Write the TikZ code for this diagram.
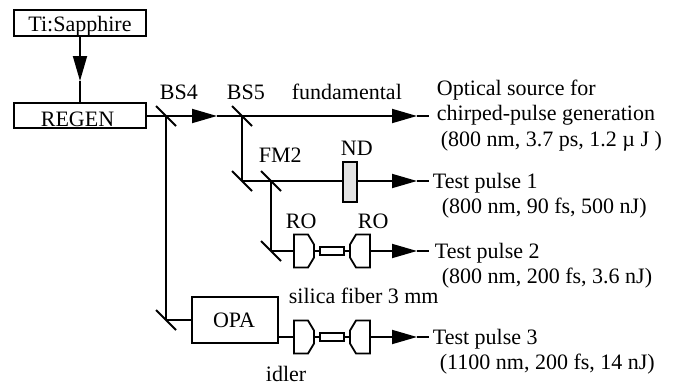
\documentclass[tikz,border=0pt]{standalone}
\usepackage{fontspec}
\setmainfont{Liberation Serif}
\usetikzlibrary{arrows.meta}
\tikzset{
    unitbox/.style={draw,rectangle,inner sep=0pt},
    lbl/.style={anchor=base west,inner sep=0pt},
    flow/.style={-{Triangle[length=25pt,width=14pt]}},
}
\begin{document}
\begin{tikzpicture}[x=1pt,y=-1pt,line width=1.8pt,font=\fontsize{22}{24}\selectfont]
    \useasboundingbox (0,0) rectangle (673,386);
    % boxes
    \node[unitbox,minimum width=132pt,minimum height=26pt,text height=21pt,text depth=5pt] (ti) at (80,23) {Ti:Sapphire};
    \node[unitbox,minimum width=132pt,minimum height=25pt,text height=23pt,text depth=2pt] (regen) at (80,115.5) {REGEN\hspace*{5pt}};
    \node[unitbox,minimum width=86pt,minimum height=46pt,text height=26pt,text depth=12pt] (opa) at (235,320) {OPA\hspace*{2pt}};
    \node[unitbox,minimum width=14pt,minimum height=40pt,fill=gray!22] (nd) at (350,182) {};
    % mirrors
    \foreach \name/\x/\y in {bsfour/166/116,bsfive/242/116,fmone/242/181,fmtwo/271/181,fmthree/271/251,fmfour/166/320} {
        \coordinate (\name) at (\x,\y);
        \draw ([shift={(-10,-10)}]\name) -- ([shift={(10,10)}]\name);
    }
    % beam ends
    \coordinate (tidown) at (80,81);
    \coordinate (tipa) at (217,116);
    \coordinate (tipb) at (417,116);
    \coordinate (enda) at (429,116);
    \coordinate (tipc) at (417,181);
    \coordinate (endb) at (429,181);
    \draw[flow] (ti) -- (tidown);
    \draw (tidown) -- (regen);
    \draw (regen.east |- bsfour) -- (bsfour);
    \draw[flow] (bsfour) -- (tipa);
    \draw (tipa) -- (bsfive);
    \draw[flow] (bsfive) -- (tipb);
    \draw (tipb) -- (enda);
    \draw (bsfive) -- (fmone);
    \draw (fmone) -- (fmtwo);
    \draw (fmtwo) -- (nd.west |- fmtwo);
    \draw[flow] (nd.east |- fmtwo) -- (tipc);
    \draw (tipc) -- (endb);
    \draw (fmtwo) -- (fmthree);
    \draw (bsfour) -- (fmfour);
    \draw (fmfour) -- (opa.west |- fmfour);
    % relay optics and fiber
    \foreach \name/\y in {rla/251,rlb/337} {
        \draw (294,\y-16.5) -- (308,\y-16.5) -- (314,\y-6.5) -- (314,\y+6.5) -- (308,\y+16.5) -- (294,\y+16.5) -- cycle;
        \draw (370,\y-16.5) -- (356,\y-16.5) -- (350,\y-6.5) -- (350,\y+6.5) -- (356,\y+16.5) -- (370,\y+16.5) -- cycle;
        \node[unitbox,minimum width=24pt,minimum height=8pt] (\name fib) at (332,\y) {};
        \coordinate (\name in) at (294,\y);
        \coordinate (\name a) at (314,\y);
        \coordinate (\name b) at (350,\y);
        \coordinate (\name out) at (370,\y);
        \coordinate (\name tip) at (417,\y);
        \coordinate (\name end) at (429,\y);
        \draw (\name a) -- (\name fib);
        \draw (\name fib) -- (\name b);
        \draw[flow] (\name out) -- (\name tip);
        \draw (\name tip) -- (\name end);
    }
    \draw (fmthree) -- (rlain);
    \draw (opa.east |- rlbin) -- (rlbin);
    % labels
    \node[lbl] (bsfourtxt) at (159,99) {BS4};
    \node[lbl] (bsfivetxt) at (226,99) {BS5};
    \node[lbl] (fundtxt) at (291,99) {fundamental};
    \node[lbl] (fmtxt) at (258,162) {FM2};
    \node[lbl] (ndtxt) at (340,155) {ND};
    \node[lbl] (roa) at (285,228) {RO};
    \node[lbl] (rob) at (357,228) {RO};
    \node[lbl] (fibtxt) at (288,303) {silica fiber 3 mm};
    \node[lbl] (idlertxt) at (265,381) {idler};
    \node[lbl] (srca) at (436,95) {Optical source for};
    \node[lbl] (srcb) at (436,120) {chirped-pulse generation};
    \node[lbl] (srcc) at (440,146) {(800 nm, 3.7 ps, 1.2 µ J )};
    \node[lbl] (pa) at (432,188) {Test pulse 1};
    \node[lbl] (pb) at (441,213) {(800 nm, 90 fs, 500 nJ)};
    \node[lbl] (pc) at (434,258) {Test pulse 2};
    \node[lbl] (pd) at (441,283) {(800 nm, 200 fs, 3.6 nJ)};
    \node[lbl] (pe) at (432,344) {Test pulse 3};
    \node[lbl] (pf) at (439,369) {(1100 nm, 200 fs, 14 nJ)};
\end{tikzpicture}
\end{document}
